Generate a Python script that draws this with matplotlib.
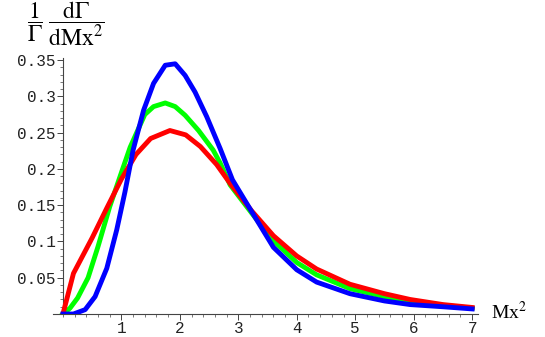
import matplotlib
matplotlib.use("Agg")
import matplotlib.pyplot as plt
from matplotlib.ticker import MultipleLocator, FixedLocator

plt.rcParams['mathtext.fontset'] = 'stix'

red_x = [0, 0.18, 0.5, 0.75, 1.0, 1.25, 1.5, 1.83, 2.1, 2.35, 2.63, 2.86, 3.23, 3.6, 4.0, 4.34, 4.91, 5.5, 5.94, 6.5, 7.0]
red_y = [0, 0.056, 0.105, 0.146, 0.186, 0.220, 0.242, 0.253, 0.247, 0.231, 0.206, 0.180, 0.142, 0.108, 0.080, 0.062, 0.041, 0.028, 0.020, 0.013, 0.009]

green_x = [0, 0.12, 0.25, 0.43, 0.6, 0.8, 1.0, 1.15, 1.4, 1.55, 1.75, 1.92, 2.09, 2.32, 2.57, 2.69, 2.86, 3.23, 3.6, 4.0, 4.34, 4.91, 5.5, 5.94, 6.5, 7.0]
green_y = [0, 0.008, 0.022, 0.050, 0.093, 0.148, 0.195, 0.230, 0.275, 0.286, 0.291, 0.286, 0.274, 0.253, 0.226, 0.208, 0.178, 0.139, 0.101, 0.071, 0.054, 0.035, 0.024, 0.017, 0.012, 0.008]

blue_x = [0, 0.18, 0.38, 0.55, 0.75, 0.92, 1.06, 1.2, 1.38, 1.55, 1.75, 1.92, 2.09, 2.26, 2.46, 2.69, 2.9, 3.23, 3.6, 4.0, 4.34, 4.91, 5.5, 5.94, 6.5, 7.0]
blue_y = [0, 0.0, 0.006, 0.024, 0.063, 0.116, 0.168, 0.226, 0.281, 0.318, 0.343, 0.345, 0.329, 0.306, 0.272, 0.228, 0.185, 0.141, 0.092, 0.061, 0.044, 0.028, 0.018, 0.013, 0.010, 0.007]

x_ticks = [1, 2, 3, 4, 5, 6, 7]
y_ticks = [0.05, 0.1, 0.15, 0.2, 0.25, 0.3, 0.35]
y_tick_labels = ['0.05', '0.1', '0.15', '0.2', '0.25', '0.3', '0.35']

fig = plt.figure(figsize=(5.45, 3.37), dpi=100)
ax = fig.add_axes([53/545, 23/337, 425/545, 256/337])

lw = 3.5
ax.plot(red_x, red_y, color='#ff0000', lw=lw, solid_joinstyle='round', zorder=3)
ax.plot(green_x, green_y, color='#00ff00', lw=lw, solid_joinstyle='round', zorder=2)
ax.plot(blue_x, blue_y, color='#0000ff', lw=lw, solid_joinstyle='round', zorder=4)

ax.set_xlim(-0.17, 7.1)
ax.set_ylim(0, 0.353)
for s in ['top', 'right']:
    ax.spines[s].set_visible(False)
ax.spines['left'].set_position(('data', 0))
ax.spines['bottom'].set_position(('data', 0))
for s in ['left', 'bottom']:
    ax.spines[s].set_color('#444444')
    ax.spines[s].set_linewidth(0.8)

ax.xaxis.set_major_locator(FixedLocator(x_ticks))
ax.xaxis.set_minor_locator(MultipleLocator(0.2))
ax.yaxis.set_major_locator(FixedLocator(y_ticks))
ax.set_yticklabels(y_tick_labels)
ax.yaxis.set_minor_locator(MultipleLocator(0.01))

ax.tick_params(which='major', direction='out', length=4, width=0.7, color='#444444', pad=1)
ax.tick_params(which='minor', direction='out', length=2, width=0.5, color='#444444')
for lab in ax.get_xticklabels() + ax.get_yticklabels():
    lab.set_family('Liberation Mono')
    lab.set_fontsize(11.5)
    lab.set_color('#222222')

fig.text(491/545, 1 - 312/337, 'Mx$^2$', family='Liberation Serif', fontsize=14, va='center', ha='left')
fig.text(27/545, 1 - 24/337, r'$\dfrac{1}{\Gamma}\;\dfrac{\mathrm{d}\Gamma}{\mathrm{dMx}^2}$', fontsize=17, va='center', ha='left')

fig.savefig('out.png', dpi=100)
